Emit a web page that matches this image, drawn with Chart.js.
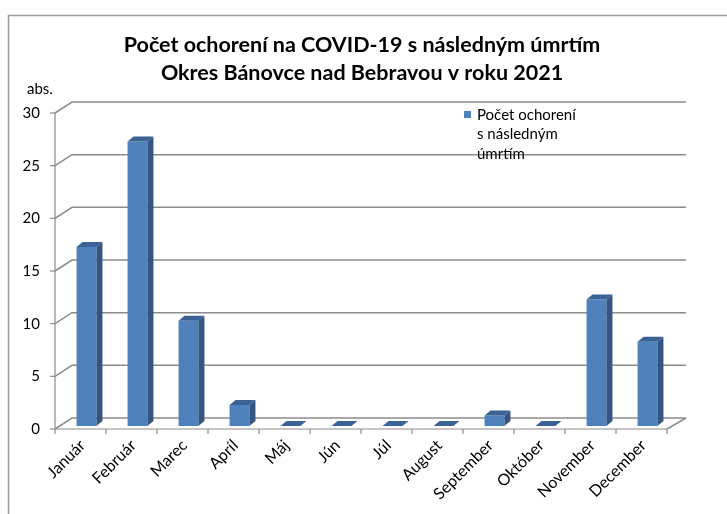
<!DOCTYPE html>
<html>
<head>
<meta charset="utf-8">
<script src="https://cdn.jsdelivr.net/npm/chart.js@4"></script>
<style>
  html, body { margin: 0; padding: 0; background: #fff; }
  canvas { display: block; }
</style>
</head>
<body>
<canvas id="chart" width="727" height="514"></canvas>
<script>
const months = ['Január', 'Február', 'Marec', 'Apríl', 'Máj', 'Jún', 'Júl', 'August', 'September', 'Október', 'November', 'December'];
const deaths = [17, 27, 10, 2, 0, 0, 0, 0, 1, 0, 12, 8];
const yTicks = [0, 5, 10, 15, 20, 25, 30];
const titleLines = ['Počet ochorení na COVID-19 s následným úmrtím', 'Okres Bánovce nad Bebravou v roku 2021'];
const legendLines = ['Počet ochorení', 's následným', 'úmrtím'];

const FONT = 'Lato, "Open Sans", sans-serif';

// offsets of the 3D look: back wall, front axis, bar depth
const wall = { dx: 11, dy: -8 };
const front = { dx: -6, dy: 3 };
const depth = { dx: 6, dy: -5 };

const excel3d = {
    id: 'excel3d',
    beforeDatasetsDraw(chart) {
        const ctx = chart.ctx;
        const area = chart.chartArea;
        const y = chart.scales.y;

        ctx.save();
        // outer frame
        ctx.strokeStyle = '#9a9a9a';
        ctx.lineWidth = 1.5;
        ctx.beginPath();
        ctx.moveTo(8.5, 514);
        ctx.lineTo(8.5, 15.5);
        ctx.lineTo(727, 15.5);
        ctx.stroke();

        // back wall gridlines with the diagonal on the side wall
        ctx.strokeStyle = '#8c8c8c';
        ctx.lineWidth = 1.5;
        yTicks.forEach(v => {
            const py = y.getPixelForValue(v);
            ctx.beginPath();
            ctx.moveTo(area.left + front.dx, py + front.dy);
            ctx.lineTo(area.left + wall.dx, py + wall.dy);
            ctx.lineTo(area.right + wall.dx + 2, py + wall.dy);
            ctx.stroke();
        });

        // floor, right edge
        const base = y.getPixelForValue(0);
        ctx.beginPath();
        ctx.moveTo(area.right + front.dx, base + front.dy);
        ctx.lineTo(area.right + wall.dx + 2, base + wall.dy);
        ctx.stroke();

        // front axes and their tick marks
        ctx.lineWidth = 1.2;
        ctx.beginPath();
        ctx.moveTo(area.left + front.dx, y.getPixelForValue(30) + front.dy);
        ctx.lineTo(area.left + front.dx, base + front.dy);
        ctx.lineTo(area.right + front.dx, base + front.dy);
        ctx.stroke();
        yTicks.forEach(v => {
            const py = y.getPixelForValue(v) + front.dy;
            ctx.beginPath();
            ctx.moveTo(area.left + front.dx - 5, py);
            ctx.lineTo(area.left + front.dx, py);
            ctx.stroke();
        });
        const step = (area.right - area.left) / months.length;
        for (let i = 0; i <= months.length; i++) {
            const px = area.left + front.dx + i * step;
            ctx.beginPath();
            ctx.moveTo(px, base + front.dy);
            ctx.lineTo(px, base + front.dy + 5);
            ctx.stroke();
        }
        ctx.restore();
    },
    afterDatasetsDraw(chart) {
        const ctx = chart.ctx;
        const bars = chart.getDatasetMeta(0).data;
        ctx.save();
        bars.forEach(bar => {
            const l = bar.x - bar.width / 2;
            const r = bar.x + bar.width / 2;
            const top = bar.y;
            const bottom = bar.base;
            // side face
            if (bottom - top > 0.5) {
                ctx.fillStyle = '#34557f';
                ctx.beginPath();
                ctx.moveTo(r, top);
                ctx.lineTo(r + depth.dx, top + depth.dy);
                ctx.lineTo(r + depth.dx, bottom + depth.dy);
                ctx.lineTo(r, bottom);
                ctx.closePath();
                ctx.fill();
            }
            // top face
            ctx.fillStyle = '#3c6395';
            ctx.beginPath();
            ctx.moveTo(l, top);
            ctx.lineTo(l + depth.dx, top + depth.dy);
            ctx.lineTo(r + depth.dx, top + depth.dy);
            ctx.lineTo(r, top);
            ctx.closePath();
            ctx.fill();
        });
        ctx.restore();
    },
    afterDraw(chart) {
        const ctx = chart.ctx;
        ctx.save();
        ctx.fillStyle = '#000';
        ctx.textAlign = 'center';
        ctx.textBaseline = 'middle';
        ctx.font = 'bold 21.5px ' + FONT;
        ctx.fillText(titleLines[0], 362, 45);
        ctx.fillText(titleLines[1], 362, 73);

        ctx.textAlign = 'left';
        ctx.font = '15px ' + FONT;
        ctx.fillText('abs.', 27, 89);

        // legend
        ctx.fillStyle = '#4f81bd';
        ctx.fillRect(464, 111, 7, 7);
        ctx.fillStyle = '#000';
        ctx.font = '15px ' + FONT;
        legendLines.forEach((line, i) => {
            ctx.fillText(line, 477, 115 + i * 19.5);
        });
        ctx.restore();
    }
};

new Chart(document.getElementById('chart'), {
    type: 'bar',
    data: {
        labels: months,
        datasets: [{
            label: legendLines.join(' '),
            data: deaths,
            backgroundColor: '#4f81bd',
            borderWidth: 0,
            barPercentage: 0.39,
            categoryPercentage: 1
        }]
    },
    options: {
        responsive: false,
        animation: false,
        devicePixelRatio: 1,
        layout: {
            padding: { left: 8, top: 110, right: 54, bottom: 0 }
        },
        scales: {
            x: {
                grid: { display: false, drawTicks: false },
                border: { display: false },
                ticks: {
                    minRotation: 45,
                    maxRotation: 45,
                    padding: 10,
                    labelOffset: -4,
                    color: '#000',
                    font: { family: FONT, size: 16 }
                },
                afterFit(scale) { scale.height = 88; }
            },
            y: {
                min: 0,
                max: 30,
                grid: { display: false, drawTicks: false },
                border: { display: false },
                ticks: {
                    stepSize: 5,
                    padding: 21,
                    labelOffset: 3,
                    color: '#000',
                    font: { family: FONT, size: 15 }
                },
                afterFit(scale) { scale.width = 53; }
            }
        },
        plugins: {
            legend: { display: false },
            title: { display: false },
            tooltip: { enabled: false }
        }
    },
    plugins: [excel3d]
});
</script>
</body>
</html>
